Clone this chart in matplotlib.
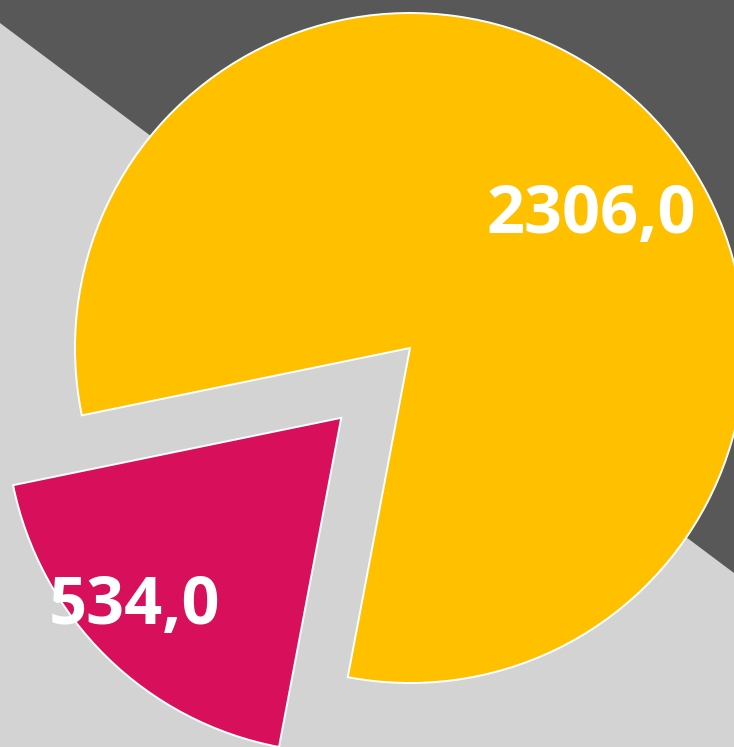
import numpy as np
import matplotlib.pyplot as plt
from matplotlib.patches import Polygon

# slice values (Excel-style labels with comma decimal)
values = [2306.0, 534.0]
labels = ['2306,0', '534,0']
colors = ['#FFC000', '#D80F5B']

W, H = 734, 747
fig = plt.figure(figsize=(W / 100, H / 100), dpi=100)
fig.patch.set_facecolor('#D3D3D3')
ax = fig.add_axes([0, 0, 1, 1])

# dark diagonal band in the top right
ax.add_patch(Polygon([(0, H - 23), (0, H), (W, H), (W, H - 573)],
                     closed=True, facecolor='#585858', edgecolor='none', zorder=0))

radius = 335
center = (410, H - 348)
explode = [0, 98]

wedges, _ = ax.pie(values, colors=colors, radius=radius, center=center,
                   explode=explode, startangle=191.6, counterclock=False,
                   wedgeprops=dict(edgecolor='white', linewidth=1.4),
                   frame=True)
ax.set_xlim(0, W)
ax.set_ylim(0, H)
ax.set_aspect('equal')
ax.axis('off')

# label placement: fraction of radius and angle nudge for each slice
label_dist = [0.67, 0.836]
label_nudge = [-9.2, -3.0]
for w, lab, d, nud in zip(wedges, labels, label_dist, label_nudge):
    ang = np.deg2rad((w.theta1 + w.theta2) / 2 + nud)
    cx, cy = w.center
    ax.text(cx + d * w.r * np.cos(ang), cy + d * w.r * np.sin(ang), lab,
            ha='center', va='center', color='white', fontsize=48,
            fontweight='bold', family='Open Sans')

fig.savefig('out.png', dpi=100, facecolor=fig.get_facecolor())
